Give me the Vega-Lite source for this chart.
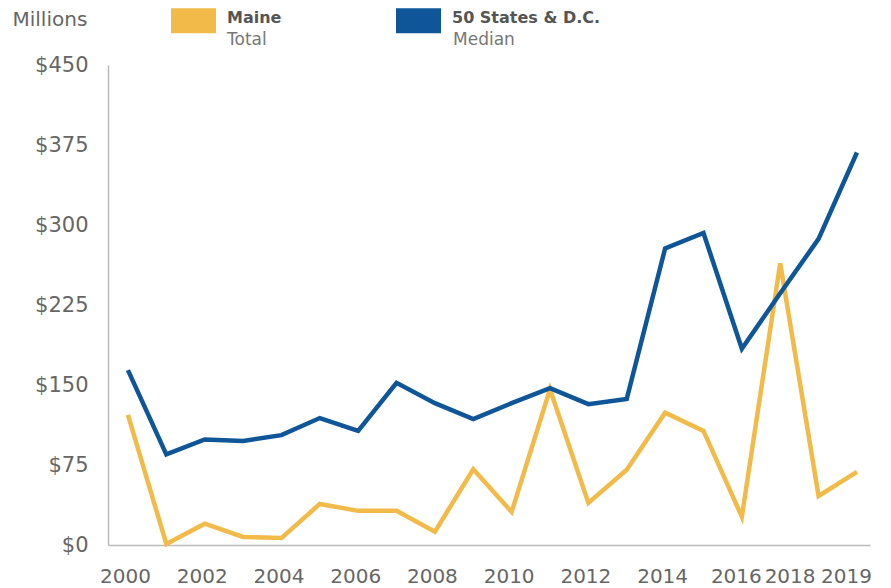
{
  "$schema": "https://vega.github.io/schema/vega-lite/v6.json",
  "width": 762,
  "height": 480,
  "autosize": {"type": "none"},
  "padding": {"left": 108, "top": 65, "right": 21, "bottom": 43},
  "background": "white",
  "config": {
    "view": {"stroke": null},
    "font": "DejaVu Sans"
  },
  "data": {
    "values": [
      {"year": 2000, "value": 122, "series": "Maine", "sub": "Total"},
      {"year": 2001, "value": 1, "series": "Maine", "sub": "Total"},
      {"year": 2002, "value": 20, "series": "Maine", "sub": "Total"},
      {"year": 2003, "value": 7.5, "series": "Maine", "sub": "Total"},
      {"year": 2004, "value": 6.5, "series": "Maine", "sub": "Total"},
      {"year": 2005, "value": 38.5, "series": "Maine", "sub": "Total"},
      {"year": 2006, "value": 32, "series": "Maine", "sub": "Total"},
      {"year": 2007, "value": 32, "series": "Maine", "sub": "Total"},
      {"year": 2008, "value": 12.5, "series": "Maine", "sub": "Total"},
      {"year": 2009, "value": 71, "series": "Maine", "sub": "Total"},
      {"year": 2010, "value": 31, "series": "Maine", "sub": "Total"},
      {"year": 2011, "value": 146, "series": "Maine", "sub": "Total"},
      {"year": 2012, "value": 39.5, "series": "Maine", "sub": "Total"},
      {"year": 2013, "value": 70.5, "series": "Maine", "sub": "Total"},
      {"year": 2014, "value": 124, "series": "Maine", "sub": "Total"},
      {"year": 2015, "value": 107, "series": "Maine", "sub": "Total"},
      {"year": 2016, "value": 26.5, "series": "Maine", "sub": "Total"},
      {"year": 2017, "value": 264, "series": "Maine", "sub": "Total"},
      {"year": 2018, "value": 46, "series": "Maine", "sub": "Total"},
      {"year": 2019, "value": 68.5, "series": "Maine", "sub": "Total"},
      {"year": 2000, "value": 164, "series": "50 States & D.C.", "sub": "Median"},
      {"year": 2001, "value": 85, "series": "50 States & D.C.", "sub": "Median"},
      {"year": 2002, "value": 99, "series": "50 States & D.C.", "sub": "Median"},
      {"year": 2003, "value": 97.5, "series": "50 States & D.C.", "sub": "Median"},
      {"year": 2004, "value": 103, "series": "50 States & D.C.", "sub": "Median"},
      {"year": 2005, "value": 119, "series": "50 States & D.C.", "sub": "Median"},
      {"year": 2006, "value": 107, "series": "50 States & D.C.", "sub": "Median"},
      {"year": 2007, "value": 152, "series": "50 States & D.C.", "sub": "Median"},
      {"year": 2008, "value": 133, "series": "50 States & D.C.", "sub": "Median"},
      {"year": 2009, "value": 118, "series": "50 States & D.C.", "sub": "Median"},
      {"year": 2010, "value": 133, "series": "50 States & D.C.", "sub": "Median"},
      {"year": 2011, "value": 147, "series": "50 States & D.C.", "sub": "Median"},
      {"year": 2012, "value": 132, "series": "50 States & D.C.", "sub": "Median"},
      {"year": 2013, "value": 137, "series": "50 States & D.C.", "sub": "Median"},
      {"year": 2014, "value": 278, "series": "50 States & D.C.", "sub": "Median"},
      {"year": 2015, "value": 292.5, "series": "50 States & D.C.", "sub": "Median"},
      {"year": 2016, "value": 184, "series": "50 States & D.C.", "sub": "Median"},
      {"year": 2017, "value": 236, "series": "50 States & D.C.", "sub": "Median"},
      {"year": 2018, "value": 287, "series": "50 States & D.C.", "sub": "Median"},
      {"year": 2019, "value": 368, "series": "50 States & D.C.", "sub": "Median"}
    ]
  },
  "mark": {"type": "line", "strokeWidth": 4.5, "strokeJoin": "miter"},
  "encoding": {
    "x": {
      "field": "year",
      "type": "quantitative",
      "scale": {"domain": [1999.48, 2019.34], "nice": false, "zero": false},
      "axis": {
        "title": null,
        "values": [2000, 2002, 2004, 2006, 2008, 2010, 2012, 2014, 2016, 2018, 2019],
        "format": "d",
        "ticks": false,
        "grid": false,
        "domainColor": "#bbbbbb",
        "domainWidth": 1.5,
        "labelFont": "DejaVu Sans",
        "labelFontSize": 20,
        "labelColor": "#666666",
        "labelPadding": 21,
        "labelFlush": false,
        "labelOverlap": false,
        "labelOffset": {"condition": [{"test": "datum.value == 2018", "value": -29}, {"test": "datum.value == 2019", "value": -11}, {"test": "datum.value == 2016", "value": -6}], "value": -3}
      }
    },
    "y": {
      "field": "value",
      "type": "quantitative",
      "scale": {"domain": [0, 450], "nice": false},
      "axis": {
        "title": "Millions",
        "titleAngle": 0,
        "titleAlign": "left",
        "titleBaseline": "alphabetic",
        "titleX": -96,
        "titleY": -40,
        "titleFont": "DejaVu Sans",
        "titleFontSize": 20,
        "titleFontWeight": "normal",
        "titleColor": "#666666",
        "values": [0, 75, 150, 225, 300, 375, 450],
        "labelExpr": "'$' + datum.value",
        "ticks": false,
        "grid": false,
        "domainColor": "#bbbbbb",
        "domainWidth": 1.5,
        "labelFont": "DejaVu Sans",
        "labelFontSize": 21,
        "labelColor": "#666666",
        "labelPadding": 20
      }
    },
    "color": {
      "field": "series",
      "type": "nominal",
      "scale": {"domain": ["Maine", "50 States & D.C."], "range": ["#F2BA48", "#0F5699"]},
      "legend": {
        "title": null,
        "orient": "none",
        "direction": "horizontal",
        "legendX": 50.5,
        "legendY": -82,
        "padding": 0,
        "symbolType": "M-1,0.11L1,0.11",
        "symbolSize": 2025,
        "symbolStrokeWidth": 25,
        "symbolOpacity": 1,
        "labelOffset": -1.5,
        "labelFont": "DejaVu Sans",
        "labelFontSize": 16,
        "labelFontWeight": "bold",
        "labelColor": "#555555",
        "labelBaseline": "middle",
        "columnPadding": 64
      }
    },
    "opacity": {
      "field": "sub",
      "type": "ordinal",
      "scale": {"domain": ["Total", "Median"], "range": [1, 1]},
      "legend": {
        "title": null,
        "orient": "none",
        "direction": "horizontal",
        "legendX": 50.5,
        "legendY": -60,
        "padding": 0,
        "symbolType": "M-1,0L1,0",
        "symbolSize": 2025,
        "symbolStrokeWidth": 25,
        "symbolStrokeColor": "transparent",
        "symbolFillColor": "transparent",
        "symbolOpacity": 0,
        "labelOffset": -1.5,
        "labelFont": "DejaVu Sans",
        "labelFontSize": 17,
        "labelFontWeight": "normal",
        "labelColor": "#777777",
        "labelBaseline": "middle",
        "columnPadding": 79
      }
    }
  }
}
